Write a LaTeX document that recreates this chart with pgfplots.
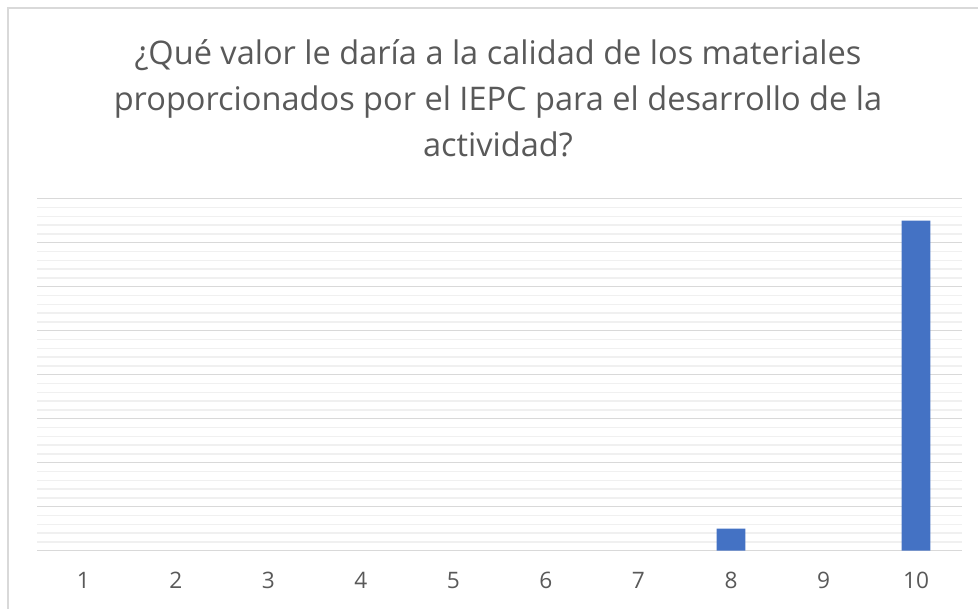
\documentclass[border=0pt]{standalone}
\usepackage{fontspec}
\setmainfont{Open Sans}
\usepackage{pgfplots}
\pgfplotsset{compat=1.18}
\definecolor{barblue}{HTML}{4472C4}
\definecolor{txtgray}{HTML}{595959}
\definecolor{majgrid}{HTML}{D9D9D9}
\definecolor{mingrid}{HTML}{F0F0F0}
\definecolor{frame}{HTML}{D9D9D9}
\begin{document}
\begin{tikzpicture}
\useasboundingbox (-27.75pt,-43pt) rectangle (705.75pt,413pt);
\draw[frame, line width=1.2pt] (-21.75pt,-60pt) -- (-21.75pt,407pt) -- (720pt,407pt);
\begin{axis}[
  at={(0pt,0pt)}, anchor=origin,
  scale only axis,
  width=694pt, height=264pt,
  ybar, bar width=21.5pt,
  xmin=0.5, xmax=10.5,
  ymin=0, ymax=16,
  xtick={1,...,10},
  xticklabels={1,2,3,4,5,6,7,8,9,10},
  ytick={0,2,...,16},
  minor y tick num=4,
  yticklabels={},
  axis line style={draw=none},
  major tick length=0pt, minor tick length=0pt,
  ymajorgrids, yminorgrids,
  major grid style={majgrid, line width=1pt},
  minor grid style={mingrid, line width=1pt},
  x tick label style={font=\fontsize{17}{20}\selectfont, text=txtgray, anchor=base, yshift=-28.7pt},
  clip=false,
]
\addplot[fill=barblue, draw=none] coordinates {
  (8,1) (10,15)
};
\end{axis}
\begin{scope}[every node/.style={anchor=base, text=txtgray, font=\fontsize{24.4}{28}\selectfont, inner sep=0pt}]
\node at (345.75pt,364.3pt) {¿Qué valor le daría a la calidad de los materiales};
\node at (345.75pt,329.8pt) {proporcionados por el IEPC para el desarrollo de la};
\node at (345.75pt,295.3pt) {actividad?};
\end{scope}
\end{tikzpicture}
\end{document}
